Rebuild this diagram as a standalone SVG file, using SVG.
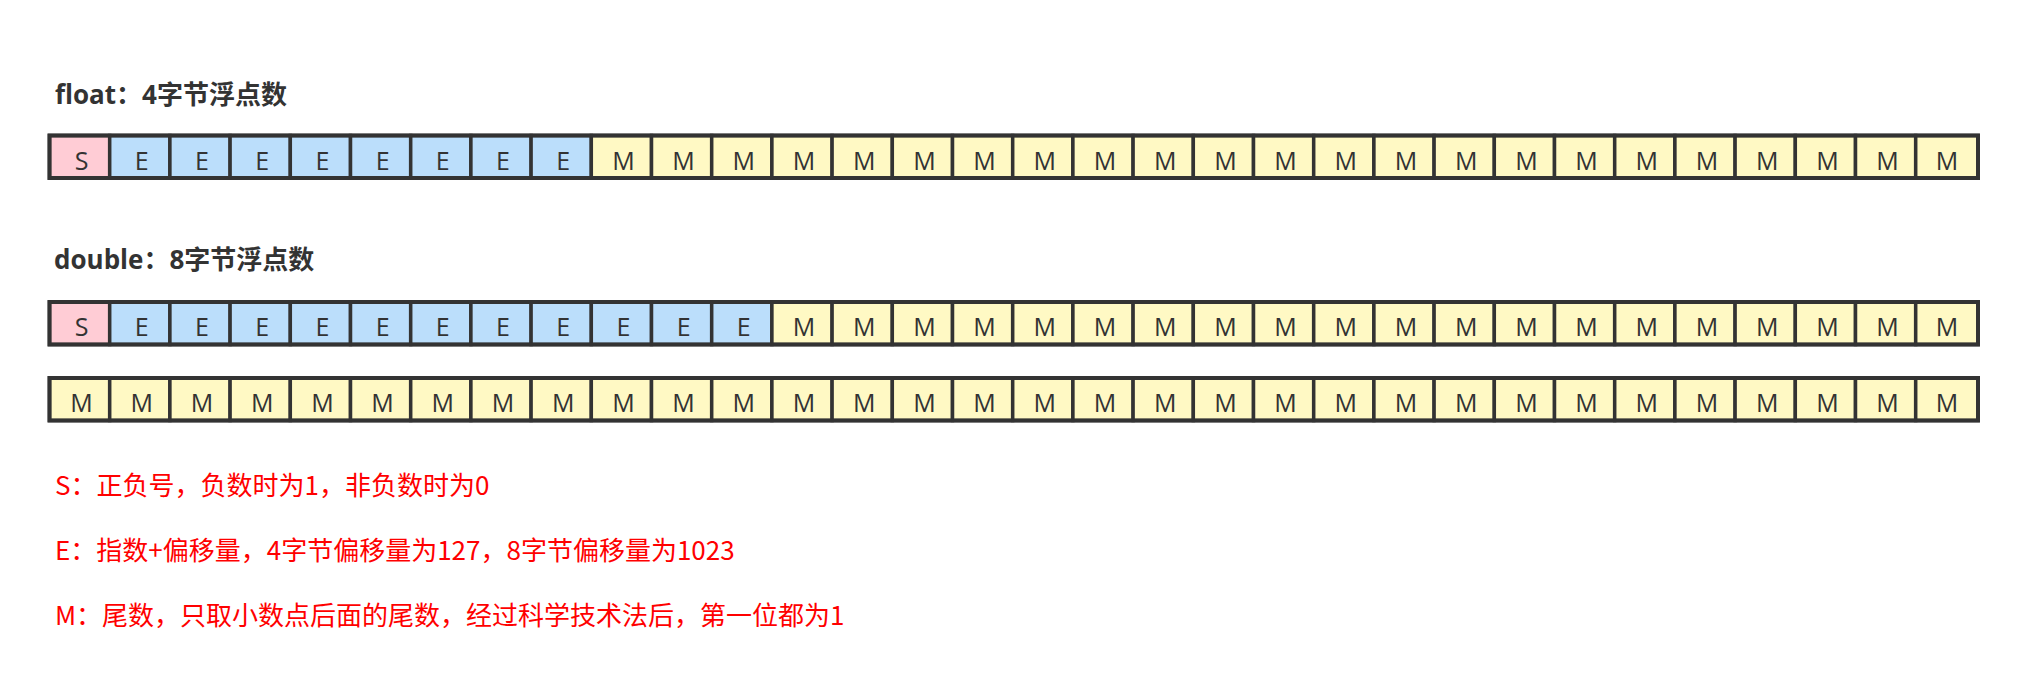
<svg xmlns="http://www.w3.org/2000/svg" width="2028" height="694" viewBox="0 0 2028 694">
<style>
.bg{fill:#ffffff}
.s{fill:#ffccd5;stroke:#333;stroke-width:3.5}
.e{fill:#bbdefb;stroke:#333;stroke-width:3.5}
.m{fill:#fff9c4;stroke:#333;stroke-width:3.5}
.frame{fill:none;stroke:#333;stroke-width:4}
.lt{font-family:"Open Sans","Noto Sans",sans-serif;font-size:25px;fill:#333;text-anchor:middle}
.title{font-family:"Open Sans","Noto Sans CJK SC",sans-serif;font-size:26px;font-weight:bold;fill:#333}
.note{font-family:"Noto Sans CJK SC","Noto Sans",sans-serif;font-size:26px;fill:#ff0000}
</style>
<defs>
<rect id="cS" class="s" width="60.2" height="42.5"/>
<rect id="cE" class="e" width="60.2" height="42.5"/>
<rect id="cM" class="m" width="60.2" height="42.5"/>
<rect id="cMl" class="m" width="62.3" height="42.5"/>
</defs>
<rect class="bg" width="2028" height="694"/>

<g id="title-float"><text class="title" x="55" y="104">float：4字节浮点数</text></g>

<g id="row-float" transform="translate(0,135.5)">
<use href="#cS" x="49.5"/><use href="#cE" x="109.7"/><use href="#cE" x="169.9"/><use href="#cE" x="230.1"/><use href="#cE" x="290.3"/><use href="#cE" x="350.5"/><use href="#cE" x="410.7"/><use href="#cE" x="470.9"/><use href="#cE" x="531.1"/>
<use href="#cM" x="591.3"/><use href="#cM" x="651.5"/><use href="#cM" x="711.7"/><use href="#cM" x="771.9"/><use href="#cM" x="832.1"/><use href="#cM" x="892.3"/><use href="#cM" x="952.5"/><use href="#cM" x="1012.7"/><use href="#cM" x="1072.9"/><use href="#cM" x="1133.1"/><use href="#cM" x="1193.3"/><use href="#cM" x="1253.5"/><use href="#cM" x="1313.7"/><use href="#cM" x="1373.9"/><use href="#cM" x="1434.1"/><use href="#cM" x="1494.3"/><use href="#cM" x="1554.5"/><use href="#cM" x="1614.7"/><use href="#cM" x="1674.9"/><use href="#cM" x="1735.1"/><use href="#cM" x="1795.3"/><use href="#cM" x="1855.5"/><use href="#cMl" x="1915.7"/>
<rect class="frame" x="49.5" y="0" width="1928.5" height="42.5"/>
<g class="lt">
<text x="81.6" y="34.5">S</text><text x="141.8" y="34.5">E</text><text x="202" y="34.5">E</text><text x="262.2" y="34.5">E</text><text x="322.4" y="34.5">E</text><text x="382.6" y="34.5">E</text><text x="442.8" y="34.5">E</text><text x="503" y="34.5">E</text><text x="563.2" y="34.5">E</text>
<text x="623.4" y="34.5">M</text><text x="683.6" y="34.5">M</text><text x="743.8" y="34.5">M</text><text x="804" y="34.5">M</text><text x="864.2" y="34.5">M</text><text x="924.4" y="34.5">M</text><text x="984.6" y="34.5">M</text><text x="1044.8" y="34.5">M</text><text x="1105" y="34.5">M</text><text x="1165.2" y="34.5">M</text><text x="1225.4" y="34.5">M</text><text x="1285.6" y="34.5">M</text><text x="1345.8" y="34.5">M</text><text x="1406" y="34.5">M</text><text x="1466.2" y="34.5">M</text><text x="1526.4" y="34.5">M</text><text x="1586.6" y="34.5">M</text><text x="1646.8" y="34.5">M</text><text x="1707" y="34.5">M</text><text x="1767.2" y="34.5">M</text><text x="1827.4" y="34.5">M</text><text x="1887.6" y="34.5">M</text><text x="1947" y="34.5">M</text>
</g>
</g>

<g id="title-double"><text class="title" x="54" y="269">double：8字节浮点数</text></g>

<g id="row-double-1" transform="translate(0,302)">
<use href="#cS" x="49.5"/><use href="#cE" x="109.7"/><use href="#cE" x="169.9"/><use href="#cE" x="230.1"/><use href="#cE" x="290.3"/><use href="#cE" x="350.5"/><use href="#cE" x="410.7"/><use href="#cE" x="470.9"/><use href="#cE" x="531.1"/><use href="#cE" x="591.3"/><use href="#cE" x="651.5"/><use href="#cE" x="711.7"/>
<use href="#cM" x="771.9"/><use href="#cM" x="832.1"/><use href="#cM" x="892.3"/><use href="#cM" x="952.5"/><use href="#cM" x="1012.7"/><use href="#cM" x="1072.9"/><use href="#cM" x="1133.1"/><use href="#cM" x="1193.3"/><use href="#cM" x="1253.5"/><use href="#cM" x="1313.7"/><use href="#cM" x="1373.9"/><use href="#cM" x="1434.1"/><use href="#cM" x="1494.3"/><use href="#cM" x="1554.5"/><use href="#cM" x="1614.7"/><use href="#cM" x="1674.9"/><use href="#cM" x="1735.1"/><use href="#cM" x="1795.3"/><use href="#cM" x="1855.5"/><use href="#cMl" x="1915.7"/>
<rect class="frame" x="49.5" y="0" width="1928.5" height="42.5"/>
<g class="lt">
<text x="81.6" y="34">S</text><text x="141.8" y="34">E</text><text x="202" y="34">E</text><text x="262.2" y="34">E</text><text x="322.4" y="34">E</text><text x="382.6" y="34">E</text><text x="442.8" y="34">E</text><text x="503" y="34">E</text><text x="563.2" y="34">E</text><text x="623.4" y="34">E</text><text x="683.6" y="34">E</text><text x="743.8" y="34">E</text>
<text x="804" y="34">M</text><text x="864.2" y="34">M</text><text x="924.4" y="34">M</text><text x="984.6" y="34">M</text><text x="1044.8" y="34">M</text><text x="1105" y="34">M</text><text x="1165.2" y="34">M</text><text x="1225.4" y="34">M</text><text x="1285.6" y="34">M</text><text x="1345.8" y="34">M</text><text x="1406" y="34">M</text><text x="1466.2" y="34">M</text><text x="1526.4" y="34">M</text><text x="1586.6" y="34">M</text><text x="1646.8" y="34">M</text><text x="1707" y="34">M</text><text x="1767.2" y="34">M</text><text x="1827.4" y="34">M</text><text x="1887.6" y="34">M</text><text x="1947" y="34">M</text>
</g>
</g>

<g id="row-double-2" transform="translate(0,378)">
<use href="#cM" x="49.5"/><use href="#cM" x="109.7"/><use href="#cM" x="169.9"/><use href="#cM" x="230.1"/><use href="#cM" x="290.3"/><use href="#cM" x="350.5"/><use href="#cM" x="410.7"/><use href="#cM" x="470.9"/><use href="#cM" x="531.1"/><use href="#cM" x="591.3"/><use href="#cM" x="651.5"/><use href="#cM" x="711.7"/>
<use href="#cM" x="771.9"/><use href="#cM" x="832.1"/><use href="#cM" x="892.3"/><use href="#cM" x="952.5"/><use href="#cM" x="1012.7"/><use href="#cM" x="1072.9"/><use href="#cM" x="1133.1"/><use href="#cM" x="1193.3"/><use href="#cM" x="1253.5"/><use href="#cM" x="1313.7"/><use href="#cM" x="1373.9"/><use href="#cM" x="1434.1"/><use href="#cM" x="1494.3"/><use href="#cM" x="1554.5"/><use href="#cM" x="1614.7"/><use href="#cM" x="1674.9"/><use href="#cM" x="1735.1"/><use href="#cM" x="1795.3"/><use href="#cM" x="1855.5"/><use href="#cMl" x="1915.7"/>
<rect class="frame" x="49.5" y="0" width="1928.5" height="42.5"/>
<g class="lt">
<text x="81.6" y="34">M</text><text x="141.8" y="34">M</text><text x="202" y="34">M</text><text x="262.2" y="34">M</text><text x="322.4" y="34">M</text><text x="382.6" y="34">M</text><text x="442.8" y="34">M</text><text x="503" y="34">M</text><text x="563.2" y="34">M</text><text x="623.4" y="34">M</text><text x="683.6" y="34">M</text><text x="743.8" y="34">M</text>
<text x="804" y="34">M</text><text x="864.2" y="34">M</text><text x="924.4" y="34">M</text><text x="984.6" y="34">M</text><text x="1044.8" y="34">M</text><text x="1105" y="34">M</text><text x="1165.2" y="34">M</text><text x="1225.4" y="34">M</text><text x="1285.6" y="34">M</text><text x="1345.8" y="34">M</text><text x="1406" y="34">M</text><text x="1466.2" y="34">M</text><text x="1526.4" y="34">M</text><text x="1586.6" y="34">M</text><text x="1646.8" y="34">M</text><text x="1707" y="34">M</text><text x="1767.2" y="34">M</text><text x="1827.4" y="34">M</text><text x="1887.6" y="34">M</text><text x="1947" y="34">M</text>
</g>
</g>

<g id="notes">
<text class="note" x="55" y="495">S：正负号，负数时为1，非负数时为0</text>
<text class="note" x="55" y="560">E：指数+偏移量，4字节偏移量为127，8字节偏移量为1023</text>
<text class="note" x="55" y="625">M：尾数，只取小数点后面的尾数，经过科学技术法后，第一位都为1</text>
</g>
</svg>
